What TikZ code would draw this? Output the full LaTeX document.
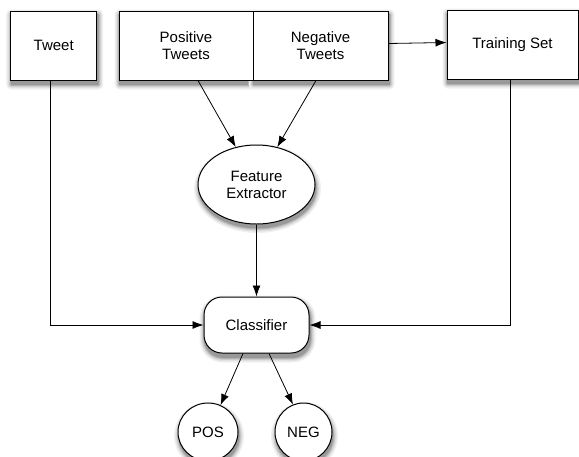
\documentclass[tikz,border=0pt]{standalone}
\usepackage{fontspec}
\setmainfont{Liberation Sans}
\usetikzlibrary{arrows.meta,shapes.geometric,calc,backgrounds}
\newcommand\shrect[2]{%
  \foreach \e/\c in {5/6,3.6/12,2.4/20,1.3/30,0.3/40}{%
    \fill[black!\c, rounded corners={#2+\e*1pt}]
      ($(#1.south west)+(1-\e,4+\e)$) rectangle ($(#1.north east)+(1+\e,4-\e)$);}}
\newcommand\shell[3]{%
  \foreach \e/\c in {5/6,3.6/12,2.4/20,1.3/30,0.3/40}{%
    \fill[black!\c] ($(#1.center)+(1,4)$) ellipse [x radius=#2+\e, y radius=#3+\e];}}
\begin{document}
\begin{tikzpicture}[x=1pt,y=-1pt,
  shape base/.style={draw, line width=1pt, fill=white,
    align=center, font=\fontsize{15}{17}\selectfont, inner sep=0pt},
  box/.style={shape base, rectangle, minimum height=69pt},
  oval/.style={shape base, ellipse},
  roundbox/.style={shape base, rectangle, rounded corners=18pt},
  arr/.style={line width=0.8pt, -{Latex[length=11pt,width=8pt]}}]
\useasboundingbox (0,0) rectangle (579,456);
\clip (0,0) rectangle (579,456);
\node[box, minimum width=86pt] (tweet) at (53.7,45.5) {Tweet};
\node[box, minimum width=134pt] (pos) at (186,45.5) {Positive\\Tweets};
\node[box, minimum width=135pt] (neg) at (320.5,45.5) {Negative\\Tweets};
\node[box, minimum width=131pt] (train) at (512.5,44.5) {Training Set};
\node[oval, minimum width=117pt, minimum height=79pt] (fe) at (256.5,184.5) {Feature\\Extractor};
\node[roundbox, minimum width=105pt, minimum height=56pt] (cls) at (256.5,325) {Classifier};
\node[oval, minimum width=60pt, minimum height=58pt] (posc) at (208,432) {POS};
\node[oval, minimum width=57pt, minimum height=58pt] (negc) at (303.5,432) {NEG};
\begin{pgfonlayer}{background}
  \shrect{tweet}{0pt}
  \shrect{pos}{0pt}
  \shrect{neg}{0pt}
  \shrect{train}{0pt}
  \shrect{cls}{18pt}
  \shell{fe}{58.5}{39.5}
  \shell{posc}{30}{29}
  \shell{negc}{28.5}{29}
\end{pgfonlayer}
\draw[arr] ($(neg.east)+(0,-2)$) -- ($(train.west)+(0,-2)$);
\draw[arr] ($(pos.south)+(12,0)$) -- (fe.119);
\draw[arr] ($(neg.south)+(-4.5,0)$) -- (fe.61);
\draw[arr] (fe.south) -- (cls.north);
\draw[arr] ($(tweet.south)+(-3,0)$) |- (cls.west);
\draw[arr] ($(train.south)+(-2.5,0)$) |- (cls.east);
\draw[arr] ($(cls.south)+(-13.5,0)$) -- (posc.65);
\draw[arr] ($(cls.south)+(12.5,0)$) -- (negc.111);
\end{tikzpicture}
\end{document}
